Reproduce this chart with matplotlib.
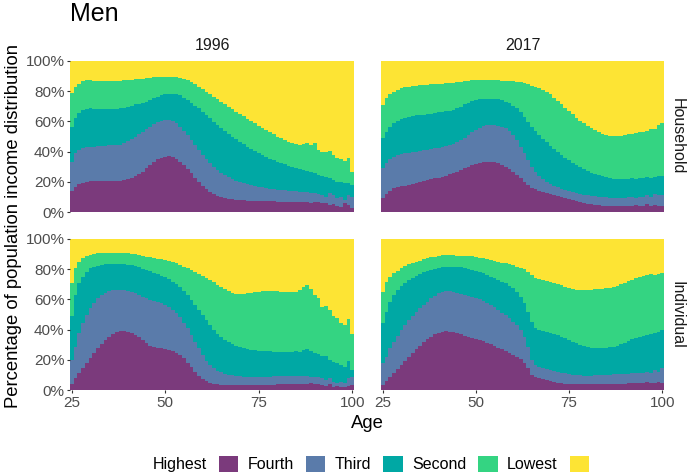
import numpy as np
import matplotlib
matplotlib.use("Agg")
import matplotlib.pyplot as plt
from matplotlib.patches import Patch

plt.rcParams['font.family'] = ['Liberation Sans', 'DejaVu Sans']

ages = list(range(25, 101))
groups = ["Highest", "Fourth", "Third", "Second", "Lowest"]
colors = ["#7B3A7C", "#5A7BAA", "#00A8A4", "#34D482", "#FDE434"]
years = ["1996", "2017"]
measures = ["Household", "Individual"]

# cumulative tops (%) of each band, ages 25..100 (Lowest band always reaches 100%)
hh1996_highest_top = [
    13.9, 16.8, 18.3, 19.4, 20.0, 20.5, 20.5, 20.6, 20.5, 20.6,
    20.5, 20.6, 20.7, 20.8, 21.2, 21.9, 22.7, 23.8, 25.2, 26.7,
    28.9, 31.1, 33.3, 35.1, 36.0, 36.6, 37.3, 36.6, 35.1, 33.3,
    31.1, 28.5, 25.6, 22.7, 20.0, 17.4, 15.2, 13.5, 11.9, 10.8,
    9.9, 9.3, 8.8, 8.4, 8.2, 7.9, 7.7, 7.5, 7.3, 7.3,
    7.2, 7.2, 7.1, 7.0, 7.0, 6.8, 6.8, 6.7, 6.6, 6.6,
    6.5, 6.5, 6.6, 6.4, 6.2, 6.5, 6.4, 5.7, 5.8, 4.6,
    5.1, 4.2, 3.5, 5.7, 4.6, 2.4]
hh1996_fourth_top = [
    33.3, 38.9, 41.0, 42.2, 43.3, 43.3, 43.3, 43.4, 43.5, 44.0,
    44.4, 44.4, 44.4, 44.6, 45.5, 47.0, 48.3, 49.9, 51.4, 53.2,
    55.0, 56.5, 58.0, 59.4, 60.3, 61.0, 61.0, 60.3, 58.7, 56.5,
    53.6, 51.0, 47.7, 44.4, 41.0, 37.7, 34.9, 32.2, 30.0, 27.8,
    26.0, 24.5, 23.2, 21.9, 20.8, 19.9, 19.0, 18.3, 17.7, 17.2,
    16.8, 16.3, 15.9, 15.5, 15.2, 14.8, 14.6, 14.3, 14.1, 13.9,
    13.7, 13.5, 13.5, 13.0, 12.4, 12.8, 11.7, 11.3, 10.2, 12.4,
    11.3, 9.0, 10.2, 7.9, 11.3, 10.2]
hh1996_third_top = [
    56.5, 62.0, 65.3, 67.5, 68.2, 68.6, 68.4, 68.0, 68.0, 68.0,
    68.0, 68.2, 68.4, 68.6, 69.0, 69.8, 70.5, 71.2, 71.8, 72.4,
    73.0, 74.2, 75.3, 76.4, 77.2, 78.0, 78.2, 78.0, 78.0, 77.5,
    75.7, 74.0, 72.4, 70.4, 68.6, 66.4, 64.2, 62.0, 59.8, 57.6,
    55.4, 53.6, 51.9, 50.0, 48.3, 46.6, 44.8, 43.3, 41.7, 40.2,
    38.9, 37.5, 36.4, 35.3, 34.2, 33.3, 32.5, 31.6, 30.7, 30.0,
    29.4, 28.5, 27.8, 27.4, 26.7, 25.6, 24.5, 24.0, 23.4, 22.3,
    21.2, 20.0, 20.0, 19.0, 19.0, 17.9]
hh1996_second_top = [
    78.6, 83.0, 85.0, 86.8, 87.4, 87.4, 87.0, 86.8, 86.8, 86.7,
    86.7, 86.6, 86.7, 86.8, 87.2, 87.4, 87.6, 87.8, 88.0, 88.3,
    88.6, 89.0, 89.4, 89.6, 89.6, 89.6, 89.6, 89.5, 89.3, 89.0,
    88.0, 87.2, 86.0, 84.5, 83.0, 81.5, 79.7, 78.0, 76.4, 74.6,
    73.0, 71.5, 69.8, 68.2, 66.4, 65.0, 63.4, 61.8, 60.3, 58.7,
    57.2, 55.6, 54.0, 52.8, 51.4, 50.0, 48.8, 47.5, 46.6, 45.5,
    44.8, 44.4, 45.0, 46.0, 44.4, 45.5, 41.0, 40.0, 39.5, 40.6,
    37.7, 35.5, 35.0, 33.8, 35.5, 26.3]

hh2017_highest_top = [
    9.0, 11.7, 13.9, 15.7, 16.6, 17.0, 17.4, 17.9, 18.3, 19.0,
    19.6, 20.5, 21.2, 21.9, 22.3, 22.7, 23.4, 24.1, 24.9, 25.6,
    26.7, 27.8, 28.9, 30.0, 31.1, 32.0, 32.7, 33.3, 33.3, 33.3,
    32.9, 32.2, 31.1, 30.0, 28.5, 26.7, 24.5, 22.3, 20.1, 17.9,
    16.1, 15.0, 14.1, 13.2, 12.4, 11.7, 11.0, 10.4, 9.7, 9.0,
    8.4, 7.7, 7.1, 6.4, 6.0, 5.5, 5.1, 4.6, 4.4, 4.2,
    4.0, 4.0, 3.8, 3.8, 4.0, 4.0, 4.2, 4.2, 4.6, 4.2,
    4.2, 5.1, 4.2, 4.6, 4.2, 4.2]
hh2017_fourth_top = [
    28.9, 32.2, 35.1, 36.6, 37.7, 38.4, 39.3, 39.3, 39.5, 39.8,
    40.5, 41.0, 41.3, 41.6, 42.3, 42.6, 43.0, 43.8, 44.4, 45.0,
    46.1, 47.7, 49.2, 51.0, 52.8, 54.3, 55.8, 57.2, 57.6, 57.6,
    57.6, 57.2, 56.5, 55.4, 53.6, 51.0, 47.7, 43.3, 38.9, 34.4,
    30.0, 26.7, 24.1, 21.9, 20.1, 18.5, 17.4, 16.3, 15.5, 14.6,
    13.9, 13.2, 12.6, 11.9, 11.5, 11.0, 10.6, 10.4, 10.2, 9.9,
    9.7, 9.5, 9.5, 9.3, 9.5, 9.5, 9.7, 9.9, 9.0, 10.2,
    9.9, 11.3, 10.2, 11.7, 11.3, 11.3]
hh2017_third_top = [
    49.2, 53.2, 56.5, 58.7, 60.3, 61.6, 62.5, 63.1, 63.6, 64.0,
    64.2, 64.4, 64.8, 65.2, 65.6, 66.0, 66.5, 66.9, 67.2, 67.6,
    68.6, 69.8, 71.3, 72.4, 73.5, 74.3, 74.8, 74.8, 74.8, 74.8,
    74.8, 74.6, 74.2, 73.0, 72.0, 70.4, 68.6, 66.4, 63.1, 59.8,
    56.5, 53.6, 51.0, 48.3, 46.1, 43.9, 41.7, 39.5, 37.7, 36.0,
    34.2, 32.7, 31.1, 29.6, 28.3, 27.2, 26.0, 25.2, 24.3, 23.6,
    23.0, 22.5, 22.1, 21.9, 21.9, 21.9, 22.1, 22.3, 21.9, 22.7,
    22.3, 23.2, 22.7, 23.4, 24.1, 24.1]
hh2017_second_top = [
    70.9, 75.3, 77.9, 79.7, 80.8, 81.9, 82.6, 83.0, 83.5, 83.7,
    83.8, 84.0, 84.3, 84.5, 84.6, 84.8, 85.0, 85.2, 85.3, 85.5,
    85.9, 86.3, 86.6, 86.9, 87.2, 87.2, 87.3, 87.3, 87.2, 87.2,
    87.2, 87.1, 87.0, 86.8, 86.8, 86.6, 86.4, 86.0, 85.2, 84.5,
    83.7, 83.0, 81.9, 80.8, 79.7, 77.9, 75.7, 73.5, 71.3, 69.1,
    66.9, 64.7, 62.5, 60.5, 58.7, 57.0, 55.4, 54.0, 52.8, 51.9,
    51.0, 50.6, 50.3, 50.3, 50.6, 51.0, 51.4, 51.9, 52.1, 52.8,
    52.8, 53.6, 55.0, 55.0, 57.6, 58.7]

ind1996_highest_top = [
    4.0, 7.7, 11.0, 14.3, 17.7, 21.0, 24.3, 27.6, 30.5, 33.1,
    35.3, 37.1, 38.2, 38.9, 39.1, 38.6, 37.5, 36.2, 34.9, 33.1,
    30.9, 29.1, 28.3, 28.0, 27.6, 27.2, 26.5, 25.8, 24.7, 23.2,
    21.0, 18.1, 15.0, 12.1, 9.5, 7.5, 6.0, 4.9, 4.2, 3.8,
    3.5, 3.5, 3.5, 3.5, 3.5, 3.5, 3.5, 3.5, 3.5, 3.5,
    3.5, 3.5, 3.5, 3.6, 3.6, 3.7, 4.0, 4.0, 4.0, 4.1,
    4.0, 4.2, 4.0, 4.1, 4.4, 4.0, 3.8, 3.1, 2.6, 4.0,
    2.2, 2.6, 1.8, 2.2, 2.6, 3.1]
ind1996_fourth_top = [
    19.9, 28.7, 37.5, 44.2, 49.7, 54.1, 57.8, 60.7, 62.9, 64.5,
    65.6, 66.2, 66.4, 66.4, 66.2, 65.8, 65.1, 64.0, 62.9, 61.8,
    60.7, 59.6, 58.9, 58.3, 57.4, 56.3, 54.7, 53.0, 50.8, 48.1,
    44.6, 40.8, 36.4, 32.0, 27.6, 23.2, 19.4, 16.6, 14.3, 12.8,
    11.7, 10.8, 10.2, 9.7, 9.3, 9.1, 8.8, 8.8, 8.8, 8.8,
    8.8, 8.8, 8.8, 8.9, 9.0, 9.0, 9.3, 9.3, 9.3, 9.3,
    9.3, 9.4, 9.3, 9.3, 8.8, 8.4, 8.8, 7.7, 6.6, 7.7,
    5.5, 4.9, 5.5, 4.4, 7.7, 8.8]
ind1996_third_top = [
    49.0, 62.9, 70.6, 75.1, 78.4, 80.6, 81.7, 82.3, 83.0, 83.2,
    83.2, 83.2, 83.2, 83.2, 83.2, 83.0, 82.8, 82.1, 81.2, 80.4,
    79.5, 78.6, 77.7, 76.8, 75.7, 74.6, 73.3, 71.7, 70.0, 68.0,
    65.8, 62.9, 59.6, 56.3, 53.0, 49.7, 46.4, 43.0, 39.7, 37.1,
    34.9, 33.1, 31.8, 30.5, 29.1, 28.3, 27.6, 26.9, 26.5, 26.3,
    26.0, 26.0, 25.8, 25.6, 25.4, 25.4, 25.2, 25.2, 25.4, 25.2,
    26.0, 25.4, 26.5, 26.9, 26.0, 24.7, 23.8, 22.5, 22.5, 19.9,
    18.8, 17.7, 16.6, 15.0, 19.4, 13.2]
ind1996_second_top = [
    70.6, 80.6, 85.0, 87.2, 88.7, 89.4, 90.0, 90.5, 90.7, 90.8,
    90.8, 90.8, 90.7, 90.6, 90.5, 90.4, 90.2, 89.8, 89.2, 88.7,
    88.3, 87.9, 87.4, 87.0, 86.5, 86.1, 85.4, 84.8, 83.9, 82.8,
    81.7, 80.6, 79.5, 78.1, 76.8, 75.5, 74.4, 72.8, 71.3, 69.5,
    68.0, 66.7, 65.6, 64.5, 63.6, 63.4, 63.6, 64.0, 64.5, 64.9,
    65.1, 65.6, 65.8, 65.8, 65.6, 65.5, 65.1, 65.1, 64.9, 64.7,
    65.1, 66.2, 68.0, 69.5, 66.7, 63.0, 60.7, 55.2, 55.6, 53.0,
    49.0, 47.5, 44.6, 43.0, 46.8, 37.1]

ind2017_highest_top = [
    3.3, 6.2, 8.8, 11.5, 13.9, 16.6, 19.2, 21.6, 24.3, 26.9,
    29.4, 31.6, 33.6, 35.3, 36.9, 38.0, 38.6, 38.9, 38.6, 38.2,
    37.5, 36.9, 36.0, 35.3, 34.7, 34.0, 33.1, 32.2, 31.3, 30.2,
    29.1, 28.0, 26.9, 25.8, 24.7, 23.4, 22.1, 20.3, 18.1, 14.3,
    9.9, 8.4, 7.7, 7.1, 6.4, 5.7, 5.3, 4.9, 4.4, 4.2,
    4.0, 4.0, 4.0, 4.0, 4.0, 4.0, 4.0, 4.0, 4.0, 4.0,
    4.0, 4.2, 4.2, 4.2, 4.2, 4.2, 4.4, 4.4, 4.4, 4.4,
    4.4, 5.5, 4.4, 4.9, 5.5, 4.4]
ind2017_fourth_top = [
    17.7, 22.1, 27.6, 32.0, 35.8, 39.7, 43.0, 46.4, 49.0, 51.9,
    54.1, 56.3, 58.5, 60.7, 62.5, 64.0, 65.1, 65.6, 65.6, 65.1,
    64.5, 63.8, 63.1, 62.5, 61.8, 61.1, 60.3, 59.2, 57.8, 56.3,
    54.7, 53.0, 51.2, 49.4, 47.5, 45.3, 43.0, 39.7, 35.3, 28.7,
    19.9, 16.6, 15.5, 14.8, 14.1, 13.5, 12.8, 12.1, 11.5, 11.0,
    10.6, 10.2, 9.9, 9.7, 9.5, 9.5, 9.5, 9.7, 9.9, 9.9,
    10.2, 10.2, 10.4, 10.4, 10.6, 10.6, 10.8, 11.0, 11.0, 11.5,
    11.5, 12.1, 11.5, 13.2, 12.1, 14.3]
ind2017_third_top = [
    44.2, 51.9, 58.5, 62.9, 66.2, 68.9, 71.1, 72.8, 74.4, 75.7,
    76.8, 77.9, 78.8, 79.7, 80.4, 81.0, 81.5, 81.5, 81.5, 81.5,
    81.5, 81.5, 81.0, 80.4, 79.7, 79.0, 78.1, 77.3, 76.2, 75.1,
    74.0, 72.8, 71.7, 70.6, 69.1, 67.3, 65.1, 61.8, 57.4, 51.9,
    45.3, 40.8, 39.7, 39.1, 38.6, 38.0, 37.1, 36.2, 35.3, 34.2,
    33.1, 32.0, 30.9, 29.8, 28.9, 28.3, 27.8, 27.6, 27.6, 27.6,
    27.8, 28.3, 28.7, 29.4, 30.2, 31.3, 32.5, 33.6, 34.7, 35.3,
    35.8, 36.4, 37.1, 38.0, 38.6, 39.7]
ind2017_second_top = [
    65.1, 71.7, 75.1, 77.3, 79.0, 80.6, 82.1, 83.4, 84.3, 85.0,
    85.7, 86.5, 87.2, 87.9, 88.3, 88.7, 89.2, 89.2, 89.2, 89.2,
    89.0, 89.0, 89.0, 89.0, 88.7, 88.3, 87.6, 87.2, 86.5, 86.1,
    85.4, 84.8, 84.3, 83.9, 83.2, 82.6, 81.7, 80.6, 79.9, 78.4,
    76.2, 74.0, 73.3, 72.8, 72.4, 71.7, 71.1, 70.2, 69.3, 68.4,
    67.5, 66.9, 66.4, 66.2, 66.2, 66.2, 66.4, 66.7, 66.9, 67.1,
    67.3, 67.5, 68.2, 69.1, 70.0, 70.9, 72.0, 73.1, 74.2, 74.8,
    75.5, 76.4, 77.0, 76.4, 77.0, 77.5]

panels = {
    ("Household", "1996"): [hh1996_highest_top, hh1996_fourth_top, hh1996_third_top, hh1996_second_top],
    ("Household", "2017"): [hh2017_highest_top, hh2017_fourth_top, hh2017_third_top, hh2017_second_top],
    ("Individual", "1996"): [ind1996_highest_top, ind1996_fourth_top, ind1996_third_top, ind1996_second_top],
    ("Individual", "2017"): [ind2017_highest_top, ind2017_fourth_top, ind2017_third_top, ind2017_second_top],
}

W, H = 688, 476
fig = plt.figure(figsize=(W / 100, H / 100), dpi=100)

xpix = [(70, 354), (381, 664)]
ypix = [(61, 212), (239, 390)]

tick_col = "#4D4D4D"
for r, meas in enumerate(measures):
    for c, yr in enumerate(years):
        x0, x1 = xpix[c]
        y0, y1 = ypix[r]
        ax = fig.add_axes([x0 / W, 1 - y1 / H, (x1 - x0) / W, (y1 - y0) / H])
        tops = panels[(meas, yr)]
        cum = np.vstack([np.zeros(len(ages))] + [np.array(t) for t in tops] + [np.full(len(ages), 100.0)])
        x = np.array(ages)
        for g in range(5):
            ax.bar(x, cum[g + 1] - cum[g], bottom=cum[g], width=1.0,
                   color=colors[g], linewidth=0, antialiased=False, label=groups[g])
        ax.set_xlim(24.5, 100.5)
        ax.set_ylim(0, 100)
        for s in ax.spines.values():
            s.set_visible(False)
        ax.set_yticks([0, 20, 40, 60, 80, 100])
        ax.set_xticks([25, 50, 75, 100])
        ax.tick_params(length=2.5, width=0.8, color="#333333", labelcolor=tick_col,
                       labelsize=11, pad=1.5)
        if c == 0:
            ax.set_yticklabels(["0%", "20%", "40%", "60%", "80%", "100%"])
        else:
            ax.tick_params(axis="y", left=False, labelleft=False)
        if r == 0:
            ax.tick_params(axis="x", bottom=False, labelbottom=False)
        if r == 0:
            fig.text((x0 + x1) / 2 / W, 1 - 46 / H, yr, ha="center", va="center",
                     fontsize=11.5, color="#1A1A1A")
        if c == 1:
            fig.text(677 / W, 1 - (y0 + y1) / 2 / H, meas, ha="center", va="center",
                     rotation=270, fontsize=11.5, color="#1A1A1A")

fig.text(70 / W, 1 - 14 / H, "Men", ha="left", va="center", fontsize=18, color="black")
fig.text(14 / W, 1 - 226 / H, "Percentage of population income distribution",
         ha="center", va="center", rotation=90, fontsize=13.3, color="black")
fig.text(367 / W, 1 - 423 / H, "Age", ha="center", va="center", fontsize=13.3, color="black")

handles = [Patch(facecolor=colors[g], edgecolor="none", label=groups[g]) for g in range(5)]
fig.legend(handles=handles, loc="center", bbox_to_anchor=(371 / W, 1 - 464 / H), ncol=5,
           frameon=False, markerfirst=False, fontsize=11.5, handlelength=1.2,
           handleheight=1.2, handletextpad=0.75, columnspacing=0.6, borderpad=0)

fig.savefig("out.png", dpi=100)
